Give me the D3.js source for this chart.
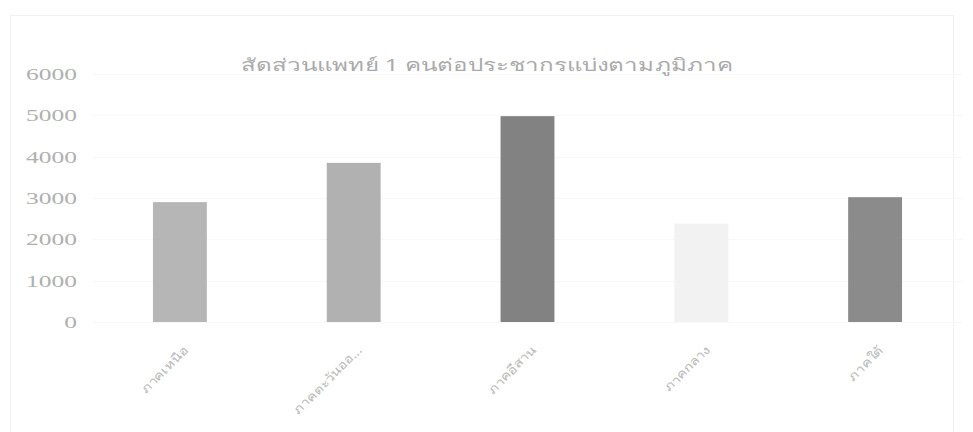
<!DOCTYPE html>
<html>
<head>
<meta charset="utf-8">
<script src="https://cdn.jsdelivr.net/npm/d3@7"></script>
<style>
  html, body { margin: 0; padding: 0; background: #fff; }
  svg { display: block; }
</style>
</head>
<body>
<script>
// Regions and the number of people per doctor in each
const regions = ["ภาคเหนือ", "ภาคตะวันออ...", "ภาคอีสาน", "ภาคกลาง", "ภาคใต้"];
const peoplePerDoctor = [2900, 3850, 4980, 2380, 3020];
const barColors = ["#b6b6b6", "#b1b1b1", "#828282", "#f2f2f2", "#8b8b8b"];
const yTicks = [0, 1000, 2000, 3000, 4000, 5000, 6000];
const title = "สัดส่วนแพทย์ 1 คนต่อประชากรแบ่งตามภูมิภาค";

const W = 973, H = 432;
const margin = { top: 74, right: 11, bottom: 110, left: 93 };

const svg = d3.select("body").append("svg")
  .attr("width", W).attr("height", H);

// chart frame
svg.append("rect")
  .attr("x", 10.5).attr("y", 15.5)
  .attr("width", W - 30).attr("height", H - 10)
  .attr("fill", "none").attr("stroke", "#f0f0f0");

const x = d3.scaleBand()
  .domain(regions)
  .range([margin.left, W - margin.right])
  .paddingInner(0.69).paddingOuter(0.345);

const y = d3.scaleLinear()
  .domain([0, 6000])
  .range([H - margin.bottom, margin.top]);

// gridlines
svg.append("g")
  .selectAll("line")
  .data(yTicks)
  .join("line")
  .attr("x1", margin.left).attr("x2", W - margin.right)
  .attr("y1", d => Math.round(y(d)) + 0.5).attr("y2", d => Math.round(y(d)) + 0.5)
  .attr("stroke", "#f8f8f8");

// y axis labels (wide, light face)
const yAxis = svg.append("g")
  .attr("transform", `translate(${margin.left - 16},0)`)
  .call(d3.axisLeft(y).tickValues(yTicks).tickSize(0).tickPadding(0).tickFormat(d3.format("d")));
yAxis.select(".domain").remove();
yAxis.selectAll("text")
  .attr("x", 0)
  .attr("transform", "scale(1.5,1)")
  .attr("fill", "#b0b0b0")
  .style("font-family", "'Liberation Serif', 'DejaVu Serif', serif")
  .style("font-size", "17px");

// bars
svg.append("g")
  .selectAll("rect")
  .data(regions)
  .join("rect")
  .attr("x", d => x(d))
  .attr("width", x.bandwidth())
  .attr("y", (d, i) => y(peoplePerDoctor[i]))
  .attr("height", (d, i) => y(0) - y(peoplePerDoctor[i]))
  .attr("fill", (d, i) => barColors[i]);

// category labels, rotated
const xAxis = svg.append("g")
  .attr("transform", `translate(0,${y(0) + 22})`)
  .call(d3.axisBottom(x).tickSize(0).tickPadding(0));
xAxis.select(".domain").remove();
xAxis.selectAll("text")
  .attr("fill", "#b8b8b8")
  .attr("text-anchor", "end")
  .attr("dy", "0.35em")
  .attr("transform", "translate(6,4) rotate(-45) scale(1.2,1)")
  .style("font-family", "'Noto Sans', 'DejaVu Sans', sans-serif")
  .style("font-size", "12px");

// title
svg.append("text")
  .attr("transform", "translate(487,71) scale(1.42,1)")
  .attr("text-anchor", "middle")
  .attr("fill", "#aaaaaa")
  .style("font-family", "'Noto Sans', 'DejaVu Sans', sans-serif")
  .style("font-size", "17px")
  .text(title);
</script>
</body>
</html>
